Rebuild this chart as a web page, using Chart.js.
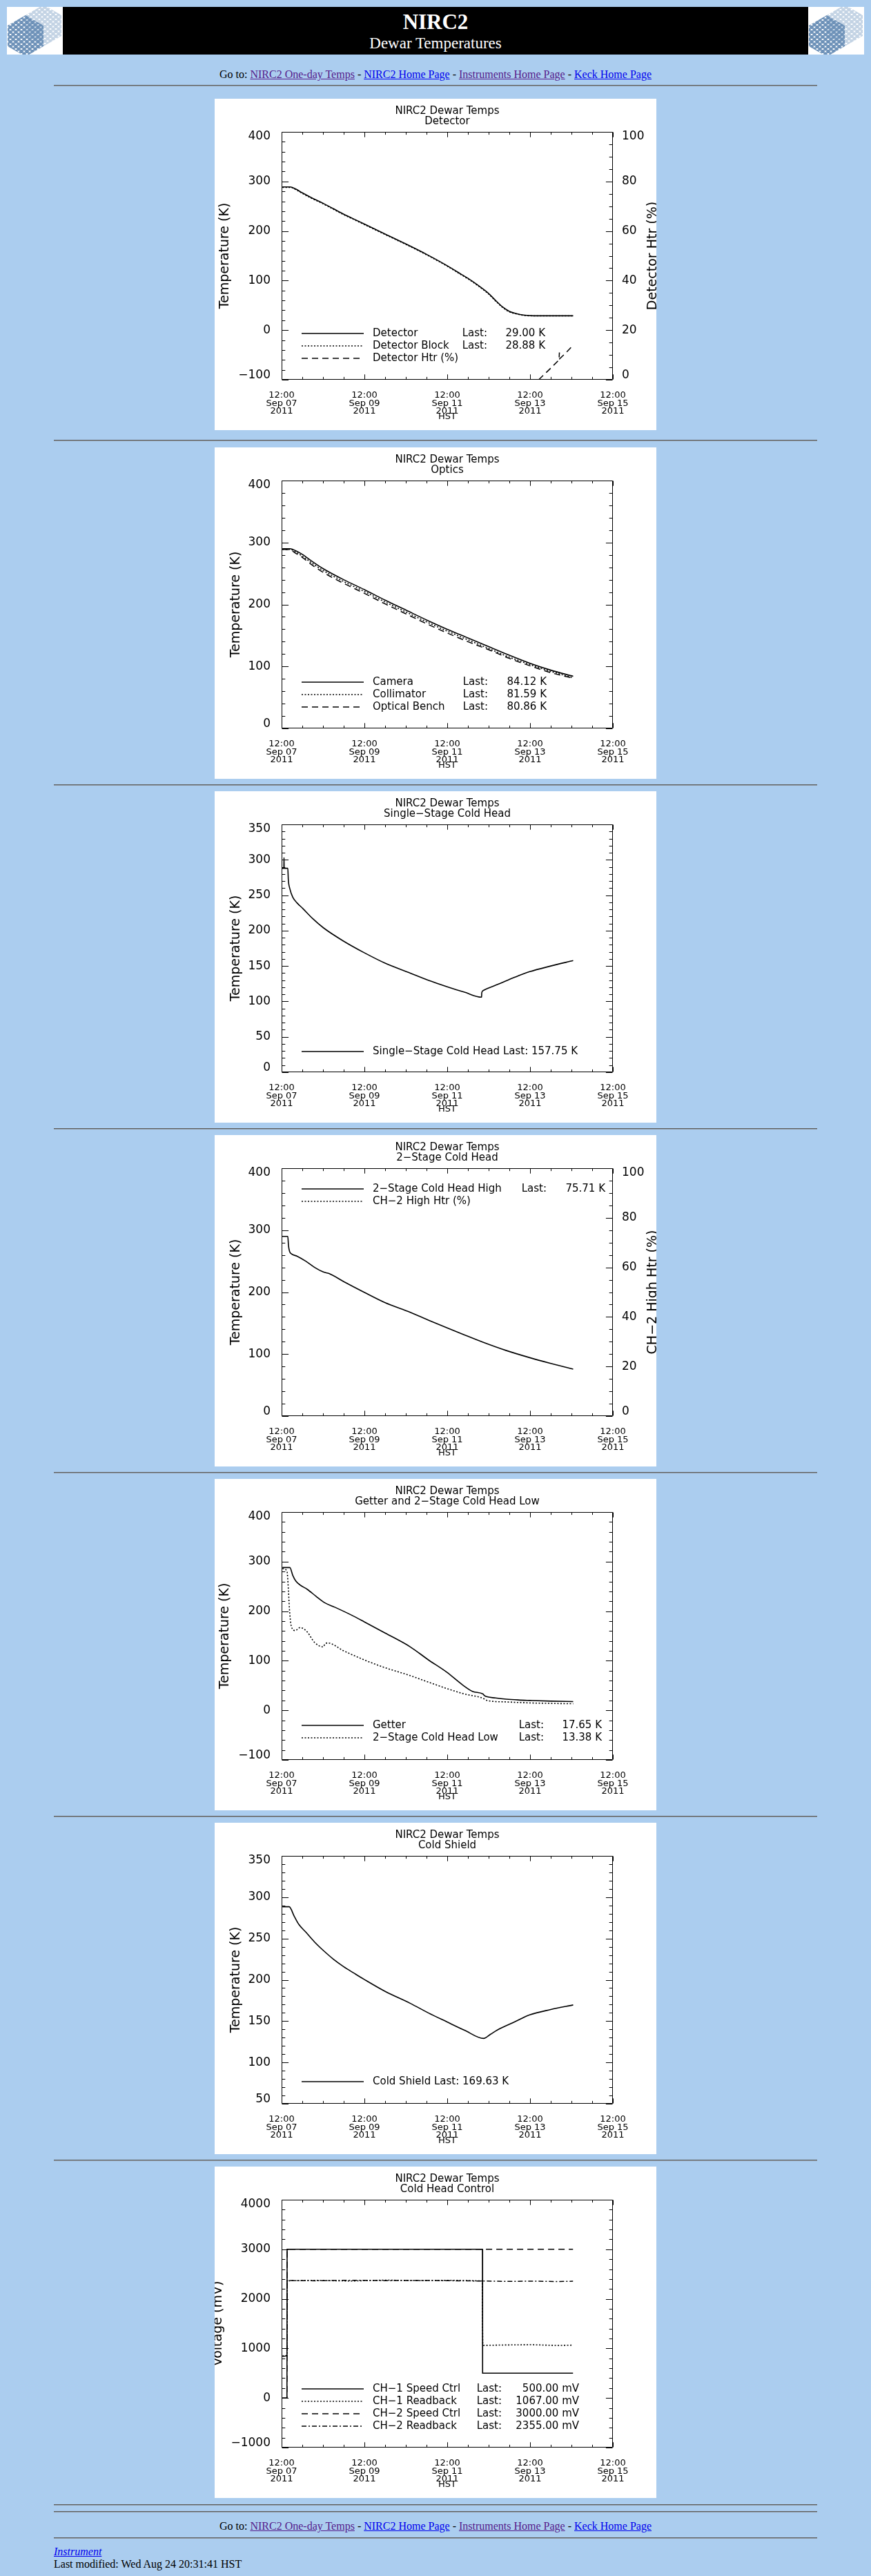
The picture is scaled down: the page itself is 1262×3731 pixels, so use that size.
<!DOCTYPE html>
<html>
<head>
<meta charset="utf-8">
<title>NIRC2 Dewar Temperatures</title>
<script src="https://cdn.jsdelivr.net/npm/chart.js@4.4.0/dist/chart.umd.min.js"></script>
<style>
  body { margin: 0; background: #abcdef; font-family: "Liberation Serif", "Times New Roman", serif; font-size: 16px; color: #000; }
  a { color: #0000ee; }
  a.v { color: #551a8b; }
  #hdr { display: flex; margin: 10px 10px 0; height: 69px; }
  .logo { width: 81px; height: 69px; background: #fff; position: relative; overflow: hidden; flex: none; }
  .logo .hx { position: absolute; width: 52px; height: 60px;
    clip-path: polygon(50% 0, 100% 25%, 100% 75%, 50% 100%, 0 75%, 0 25%);
    background-image: radial-gradient(circle, var(--c) 2.4px, transparent 3px), radial-gradient(circle, var(--c) 2.4px, transparent 3px);
    background-size: 8px 7px; background-position: 0 0, 4px 3.5px; }
  .logo .lt { --c: #c3d3e4; left: 27px; top: -3px; }
  .logo .dk { --c: #6d91b8; left: 1px; top: 12px; }
  #banner { flex: 1; background: #000; color: #fff; position: relative; text-align: center; }
  #banner .t1 { position: absolute; left: 0; right: 0; top: 6px; font-size: 31px; font-weight: bold; line-height: 32px; }
  #banner .t2 { position: absolute; left: 0; right: 0; top: 40px; font-size: 23px; line-height: 26px; }
  .nav { margin: 20px 78px 0; height: 18px; line-height: 18px; text-align: center; white-space: nowrap; }
  hr { height: 0; border: 0; border-top: 1px solid #5e5e5e; border-bottom: 1px solid #8e9aa6; margin: 8px 78px 0; }
  .plot { width: 640px; height: 480px; margin: 8px auto 0; background: #fff; }
  .plot canvas { display: block; }
  .foot { margin: 0 78px; height: 18px; line-height: 18px; }
</style>
</head>
<body>
<div id="hdr">
  <div class="logo"><div class="hx lt"></div><div class="hx dk"></div></div>
  <div id="banner"><div class="t1">NIRC2</div><div class="t2">Dewar Temperatures</div></div>
  <div class="logo"><div class="hx lt"></div><div class="hx dk"></div></div>
</div>
<div class="nav">Go to: <a class="v" href="#">NIRC2 One-day Temps</a> - <a href="#">NIRC2 Home Page</a> - <a class="v" href="#">Instruments Home Page</a> - <a href="#">Keck Home Page</a></div>
<hr style="margin-top:6px">
<div class="plot" style="margin-top:18px"><canvas id="c1" width="640" height="480"></canvas></div>
<hr style="margin-top:14px">
<div class="plot" style="margin-top:9px"><canvas id="c2" width="640" height="480"></canvas></div>
<hr>
<div class="plot"><canvas id="c3" width="640" height="480"></canvas></div>
<hr>
<div class="plot"><canvas id="c4" width="640" height="480"></canvas></div>
<hr>
<div class="plot"><canvas id="c5" width="640" height="480"></canvas></div>
<hr>
<div class="plot"><canvas id="c6" width="640" height="480"></canvas></div>
<hr>
<div class="plot"><canvas id="c7" width="640" height="480"></canvas></div>
<hr style="margin-top:9px">
<hr>
<div class="nav" style="margin-top:11px">Go to: <a class="v" href="#">NIRC2 One-day Temps</a> - <a href="#">NIRC2 Home Page</a> - <a class="v" href="#">Instruments Home Page</a> - <a href="#">Keck Home Page</a></div>
<hr style="margin-top:7px">
<div class="foot" style="margin-top:10px"><a href="#"><i>Instrument</i></a></div>
<div class="foot">Last modified: Wed Aug 24 20:31:41 HST</div>

<script>
// time axis is in hours after 12:00 HST, Sep 07 2011
const xTickHours = [0, 48, 96, 144, 192];
const xTickLabels = [
  ['12:00', 'Sep 07', '2011'], ['12:00', 'Sep 09', '2011'], ['12:00', 'Sep 11', '2011'],
  ['12:00', 'Sep 13', '2011'], ['12:00', 'Sep 15', '2011']
];
const xMinorStep = 12;

// Detector
const detTicks = [-100, 0, 100, 200, 300, 400];
const detTickLabels = [['−100', ''], '0', '100', '200', '300', ['', '400']];
const pctTicks = [0, 20, 40, 60, 80, 100];
const pctTickLabels = [['0', ''], '20', '40', '60', '80', ['', '100']];
const detHours = [0.5, 5, 8, 12, 18, 24, 30, 36, 42, 48, 60, 72, 84, 96, 104, 110, 116, 120, 124, 128, 132, 136, 140, 146, 155, 169];
const detTemp = [289, 289, 285, 277, 266, 256, 245, 234, 224, 214, 194, 174, 153, 130, 113, 100, 85, 74, 60, 47, 38, 33.5, 30.5, 29, 29, 29];
const detBlockTemp = [288, 288, 284, 276, 265, 255, 244, 233, 223, 213, 193, 173, 152, 129, 112, 99, 84, 73, 59, 46, 37, 33, 30, 28.9, 28.9, 28.9];
const detHtrHours = [149, 155, 160.8, 161, 161.2, 165, 169];
const detHtr = [0, 4, 8, 11, 8.5, 11, 14];
const detLast = ['29.00 K', '28.88 K', ''];

// Optics
const optTicks = [0, 100, 200, 300, 400];
const optTickLabels = [['0', ''], '100', '200', '300', ['', '400']];
const optHours = [0.5, 5, 8, 12, 18, 24, 36, 48, 60, 72, 84, 96, 108, 120, 132, 144, 156, 169];
const camTemp = [290, 290, 287, 281, 269, 258, 240, 224, 207, 191, 175, 160, 146, 132, 118, 105, 94, 84.1];
const colTemp = [289, 289, 285, 278, 266, 255, 237, 221, 204, 188, 172, 157, 143, 129, 115, 103, 92, 81.6];
const benchTemp = [289, 288, 283, 276, 263, 252, 234, 218, 201, 185, 169, 154, 140, 127, 113, 101, 90, 80.9];
const optLast = ['84.12 K', '81.59 K', '80.86 K'];

// Single-stage cold head
const ssTicks = [0, 50, 100, 150, 200, 250, 300, 350];
const ssTickLabels = [['0', ''], '50', '100', '150', '200', '250', '300', ['', '350']];
const ssHours = [0.3, 1.3, 1.4, 1.5, 3.6, 3.9, 4.8, 6.5, 9, 12.4, 18, 24.2, 36, 47.7, 60, 74.6, 85, 95.7, 106, 115.9, 116.0, 116.6, 119, 125.2, 135, 143.8, 156, 169];
const ssTemp = [288, 288, 303, 288, 288, 272, 259, 247, 239, 231, 217, 204, 185, 169, 154, 140, 130, 121, 113, 106, 112, 115, 118, 124, 134, 142, 150, 157.7];
const ssLast = ['157.75 K'];

// 2-stage cold head high
const hiHours = [0.3, 3.6, 4.0, 4.6, 5.6, 9, 14, 19.1, 24.2, 27.5, 36, 47.7, 60, 74.6, 85, 95.7, 106, 116.7, 130, 143.8, 156, 169];
const hiTemp = [290, 290, 275, 266, 262, 258, 250, 240, 232.5, 230, 217, 200, 183, 167.5, 155, 142.6, 131, 119.2, 106, 94.3, 85, 75.7];
const hiHtrHours = [0.3, 169];
const hiHtr = [0, 0];
const hiLast = ['75.71 K', ''];

// Getter and 2-stage cold head low
const getHours = [0.5, 4.8, 6.5, 8.2, 10.7, 14.9, 20, 25, 30.9, 40, 47.7, 60, 74.6, 85, 95.7, 105, 110.8, 116.7, 117.5, 118.4, 124, 130.2, 137, 143.8, 156, 169];
const getTemp = [288, 288, 272, 261, 253, 244, 230, 217, 208, 193, 179, 156, 128, 102, 77, 51, 38, 33, 30, 28, 25, 22.6, 21, 20, 18.5, 17.7];
const loHours = [0.5, 3.1, 4.0, 4.5, 5.6, 7.9, 10.7, 12, 14.9, 19.1, 24.2, 25, 26.7, 36, 47.7, 60, 74.6, 85, 95.7, 106, 116.7, 119.2, 130, 143.8, 156, 169];
const loTemp = [286, 281, 240, 207, 170, 161, 167, 166, 158, 137, 128, 133, 136, 120, 102, 86, 70, 57, 44, 33, 24.4, 19.8, 17, 15, 14, 13.4];
const getLast = ['17.65 K', '13.38 K'];

// Cold shield
const csTicks = [50, 100, 150, 200, 250, 300, 350];
const csTickLabels = [['50', ''], '100', '150', '200', '250', '300', ['', '350']];
const csHours = [0.5, 4.4, 7.3, 10, 14, 19, 24.2, 30, 35.9, 42, 47.7, 60, 74.6, 85, 95.7, 106, 117.1, 121, 125.2, 135, 143.8, 156, 169];
const csTemp = [288.5, 288.5, 277, 267, 257.8, 246, 235.5, 225, 216, 208, 200.7, 186, 171.5, 160, 149.2, 139, 129.1, 134, 139.4, 149, 157.5, 164, 169.6];
const csLast = ['169.63 K'];

// Cold head control (mV)
const mvTicks = [-1000, 0, 1000, 2000, 3000, 4000];
const mvTickLabels = [['−1000', ''], '0', '1000', '2000', '3000', ['', '4000']];
const ctl1Hours = [0.5, 3.1, 3.2, 116.4, 116.5, 168.9];
const ctl1 = [0, 0, 3000, 3000, 500, 500];
const rb1Hours = [0.5, 3.1, 3.2, 20, 40, 60, 80, 100, 116.3, 116.4, 116.5, 116.6, 117, 130, 145, 160, 168.9];
const rb1 = [850, 860, 2365, 2372, 2360, 2378, 2368, 2374, 2362, 2050, 1400, 1100, 1062, 1070, 1075, 1060, 1067];
const ctl2Hours = [0.5, 3.1, 3.2, 168.9];
const ctl2 = [0, 0, 3000, 3000];
const rb2Hours = [0.5, 3.1, 3.2, 20, 40, 60, 80, 100, 116.4, 130, 145, 160, 168.9];
const rb2 = [840, 850, 2370, 2365, 2375, 2368, 2372, 2365, 2360, 2352, 2358, 2350, 2355];
const mvLast = ['500.00 mV', '1067.00 mV', '3000.00 mV', '2355.00 mV'];

const INK = '#000';
const F = '"DejaVu Sans", "Liberation Sans", Arial, sans-serif';
Chart.defaults.font.family = F;

const STYLES = {
  solid: { w: 1.6, dash: [] },
  dot: { w: 1.6, dash: [2, 2.5] },
  dash: { w: 1.5, dash: [9, 6] },
  dashdot: { w: 1.5, dash: [7, 3, 2, 3] }
};

function series(label, hours, vals, style, axis, straight) {
  const st = STYLES[style];
  return {
    label: label,
    data: hours.map((h, i) => ({ x: h, y: vals[i] })),
    yAxisID: axis || 'y',
    borderColor: INK, borderWidth: st.w, borderDash: st.dash,
    pointRadius: 0, fill: false,
    cubicInterpolationMode: straight ? 'default' : 'monotone',
    tension: 0
  };
}

// IDL style frame: box, inward major/minor ticks, right title, legend inside plot
function sideTicks(ctx, scale, vals, minor, x0, dir) {
  for (let v = vals[0]; v <= vals[vals.length - 1]; v += minor) {
    const py = Math.round(scale.getPixelForValue(v)) + 0.5;
    const len = vals.includes(v) ? 9.6 : 4.8;
    ctx.moveTo(x0, py);
    ctx.lineTo(x0 + dir * len, py);
  }
}

function idlFrame(p) {
  return {
    id: 'idlFrame',
    afterDraw(chart) {
      const { ctx, chartArea: a, scales } = chart;
      const L = a.left + 0.5, R = a.right - 0.5, T = a.top + 0.5, B = a.bottom - 0.5;
      ctx.save();
      ctx.strokeStyle = INK;
      ctx.lineWidth = 1;
      ctx.setLineDash([]);
      ctx.beginPath();
      ctx.rect(L, T, R - L, B - T);
      for (let v = 0; v <= 192; v += xMinorStep) {
        const px = Math.round(scales.x.getPixelForValue(v)) + 0.5;
        const len = xTickHours.includes(v) ? 7.2 : 3.6;
        ctx.moveTo(px, B); ctx.lineTo(px, B - len);
        ctx.moveTo(px, T); ctx.lineTo(px, T + len);
      }
      sideTicks(ctx, scales.y, p.yTicks, p.yMinor, L, 1);
      if (p.y1Ticks) sideTicks(ctx, scales.y1, p.y1Ticks, p.y1Minor, R, -1);
      else sideTicks(ctx, scales.y, p.yTicks, p.yMinor, R, -1);
      ctx.stroke();

      ctx.fillStyle = INK;
      if (p.y1Title) {
        ctx.save();
        ctx.translate(635, (a.top + a.bottom) / 2);
        ctx.rotate(-Math.PI / 2);
        ctx.font = '19px ' + F;
        ctx.textAlign = 'center';
        ctx.textBaseline = 'middle';
        ctx.fillText(p.y1Title, 0, 0);
        ctx.restore();
      }

      ctx.font = '15px ' + F;
      ctx.textBaseline = 'middle';
      p.legendRows.forEach((y, i) => {
        const ds = chart.data.datasets[i];
        ctx.save();
        ctx.beginPath();
        ctx.lineWidth = ds.borderWidth;
        ctx.setLineDash(ds.borderDash);
        ctx.moveTo(126, y); ctx.lineTo(216, y);
        ctx.stroke();
        ctx.restore();
        const last = p.last[i];
        ctx.textAlign = 'left';
        if (p.inline) {
          ctx.fillText(ds.label + ' Last: ' + last, 229, y);
        } else {
          ctx.fillText(ds.label, 229, y);
          if (last) {
            ctx.textAlign = 'right';
            ctx.fillText('Last:', p.lastX, y);
            ctx.fillText(last, p.valX, y);
          }
        }
      });
      ctx.restore();
    }
  };
}

function plot(p) {
  const tickFont = { family: F, size: 17, lineHeight: 0.75 };
  const scales = {
    x: {
      type: 'linear', min: 0, max: 192,
      afterFit: s => { s.height = 73; },
      afterBuildTicks: s => { s.ticks = xTickHours.map(v => ({ value: v })); },
      ticks: { autoSkip: false, maxRotation: 0, padding: 9, color: INK,
        font: { family: F, size: 13, lineHeight: 0.885 },
        callback: (v, i) => xTickLabels[i] },
      grid: { display: false },
      border: { display: false },
      title: { display: true, text: 'HST', color: INK, font: { family: F, size: 13 }, padding: { top: 0, bottom: 11.5 } }
    },
    y: {
      type: 'linear', position: 'left', min: p.yTicks[0], max: p.yTicks[p.yTicks.length - 1],
      afterFit: s => { s.width = 97; },
      afterBuildTicks: s => { s.ticks = p.yTicks.map(v => ({ value: v })); },
      ticks: { autoSkip: false, padding: 8, color: INK, font: tickFont, callback: (v, i) => p.yLabels[i] },
      grid: { display: false },
      border: { display: false },
      title: { display: true, text: p.yTitle, color: INK, font: { family: F, size: 19 }, padding: { top: p.yTitlePad, bottom: 0 } }
    }
  };
  if (p.y1Ticks) {
    scales.y1 = {
      type: 'linear', position: 'right', min: p.y1Ticks[0], max: p.y1Ticks[p.y1Ticks.length - 1],
      afterFit: s => { s.width = 63; },
      afterBuildTicks: s => { s.ticks = p.y1Ticks.map(v => ({ value: v })); },
      ticks: { autoSkip: false, padding: 5, color: INK, font: tickFont, callback: (v, i) => p.y1Labels[i] },
      grid: { display: false },
      border: { display: false },
      title: { display: false }
    };
  }
  new Chart(document.getElementById(p.id), {
    type: 'line',
    data: { datasets: p.datasets },
    options: {
      responsive: false,
      animation: false,
      events: [],
      layout: { padding: { top: 0, left: 0, bottom: 0, right: p.y1Ticks ? 0 : 63 } },
      plugins: {
        legend: { display: false },
        tooltip: { enabled: false },
        title: {
          display: true, fullSize: false, text: ['NIRC2 Dewar Temps', p.sub], color: INK,
          font: { family: F, size: 15, weight: 'normal', lineHeight: 0.967 },
          padding: { top: 11, bottom: 8 }
        }
      },
      scales: scales
    },
    plugins: [idlFrame(p)]
  });
}

plot({
  id: 'c1', sub: 'Detector',
  yTicks: detTicks, yLabels: detTickLabels, yMinor: 20, yTitle: 'Temperature (K)', yTitlePad: 3.5,
  y1Ticks: pctTicks, y1Labels: pctTickLabels, y1Minor: 5, y1Title: 'Detector Htr (%)',
  datasets: [
    series('Detector', detHours, detTemp, 'solid'),
    series('Detector Block', detHours, detBlockTemp, 'dot'),
    series('Detector Htr (%)', detHtrHours, detHtr, 'dash', 'y1', true)
  ],
  legendRows: [340, 358, 376], last: detLast, lastX: 395, valX: 479
});

plot({
  id: 'c2', sub: 'Optics',
  yTicks: optTicks, yLabels: optTickLabels, yMinor: 20, yTitle: 'Temperature (K)', yTitlePad: 20,
  datasets: [
    series('Camera', optHours, camTemp, 'solid'),
    series('Collimator', optHours, colTemp, 'dot'),
    series('Optical Bench', optHours, benchTemp, 'dash')
  ],
  legendRows: [340, 358, 376], last: optLast, lastX: 396, valX: 481
});

plot({
  id: 'c3', sub: 'Single−Stage Cold Head',
  yTicks: ssTicks, yLabels: ssTickLabels, yMinor: 10, yTitle: 'Temperature (K)', yTitlePad: 20,
  datasets: [series('Single−Stage Cold Head', ssHours, ssTemp, 'solid')],
  legendRows: [377], last: ssLast, inline: true
});

plot({
  id: 'c4', sub: '2−Stage Cold Head',
  yTicks: optTicks, yLabels: optTickLabels, yMinor: 20, yTitle: 'Temperature (K)', yTitlePad: 20,
  y1Ticks: pctTicks, y1Labels: pctTickLabels, y1Minor: 5, y1Title: 'CH−2 High Htr (%)',
  datasets: [
    series('2−Stage Cold Head High', hiHours, hiTemp, 'solid'),
    series('CH−2 High Htr (%)', hiHtrHours, hiHtr, 'dot', 'y1', true)
  ],
  legendRows: [78, 96], last: hiLast, lastX: 481, valX: 566
});

plot({
  id: 'c5', sub: 'Getter and 2−Stage Cold Head Low',
  yTicks: detTicks, yLabels: detTickLabels, yMinor: 20, yTitle: 'Temperature (K)', yTitlePad: 3.5,
  datasets: [
    series('Getter', getHours, getTemp, 'solid'),
    series('2−Stage Cold Head Low', loHours, loTemp, 'dot')
  ],
  legendRows: [357, 375], last: getLast, lastX: 477, valX: 561
});

plot({
  id: 'c6', sub: 'Cold Shield',
  yTicks: csTicks, yLabels: csTickLabels, yMinor: 10, yTitle: 'Temperature (K)', yTitlePad: 20,
  datasets: [series('Cold Shield', csHours, csTemp, 'solid')],
  legendRows: [375], last: csLast, inline: true
});

plot({
  id: 'c7', sub: 'Cold Head Control',
  yTicks: mvTicks, yLabels: mvTickLabels, yMinor: 200, yTitle: 'Voltage (mV)', yTitlePad: -6,
  datasets: [
    series('CH−1 Speed Ctrl', ctl1Hours, ctl1, 'solid', 'y', true),
    series('CH−1 Readback', rb1Hours, rb1, 'dot', 'y', true),
    series('CH−2 Speed Ctrl', ctl2Hours, ctl2, 'dash', 'y', true),
    series('CH−2 Readback', rb2Hours, rb2, 'dashdot', 'y', true)
  ],
  legendRows: [322, 340, 358, 376], last: mvLast, lastX: 416, valX: 528
});
</script>
</body>
</html>
